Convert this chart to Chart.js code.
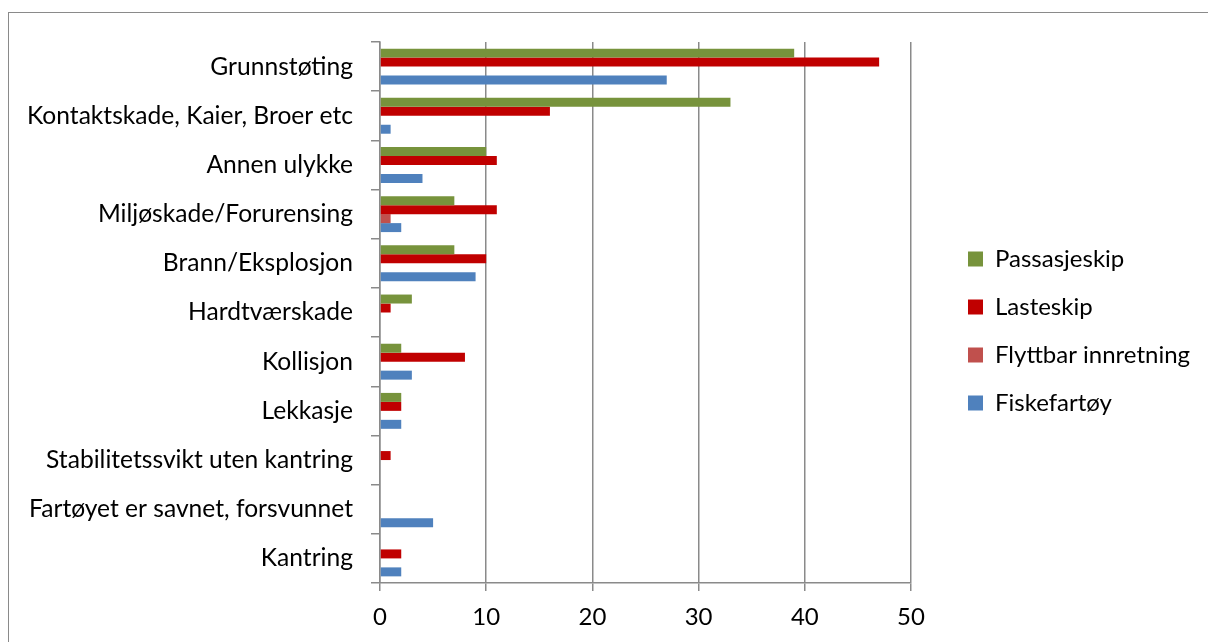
<!DOCTYPE html>
<html>
<head>
<meta charset="utf-8">
<title>Ulykker etter skipstype</title>
<script src="https://cdn.jsdelivr.net/npm/chart.js@4.4.1/dist/chart.umd.min.js"></script>
<style>
  html, body { margin: 0; padding: 0; background: #fff; overflow: hidden; }
  #ramme {
    position: absolute; left: 8px; top: 12px;
    width: 1300px; height: 700px;
    border: 1.5px solid #8a8a8a;
  }
  #myChart { position: absolute; left: 0; top: 0; }
</style>
</head>
<body>
<div id="ramme"></div>
<canvas id="myChart" width="1208" height="642"></canvas>
<script>
// kategorier, øverst først
var kategorier = ['Grunnstøting', 'Kontaktskade, Kaier, Broer etc', 'Annen ulykke',
  'Miljøskade/Forurensing', 'Brann/Eksplosjon', 'Hardtværskade', 'Kollisjon',
  'Lekkasje', 'Stabilitetssvikt uten kantring', 'Fartøyet er savnet, forsvunnet', 'Kantring'];

var passasjeskip = [39, 33, 10, 7, 7, 3, 2, 2, 0, 0, 0];
var lasteskip    = [47, 16, 11, 11, 10, 1, 8, 2, 1, 0, 2];
var flyttbar     = [0, 0, 0, 1, 0, 0, 0, 0, 0, 0, 0];
var fiskefartoy  = [27, 1, 4, 2, 9, 0, 3, 2, 0, 5, 2];

var serier = ['Passasjeskip', 'Lasteskip', 'Flyttbar innretning', 'Fiskefartøy'];
var xTicks = [0, 10, 20, 30, 40, 50];

// fast bredde og toppkant på forklaringen, så plottet ikke flytter seg med teksten
const fastForklaring = {
    id: 'fastForklaring',
    afterInit(chart, args, opts) {
        const leg = chart.legend;
        if (!leg) return;
        const fit = leg.fit.bind(leg);
        leg.fit = function () { fit(); this.width = opts.width; };
    },
    afterLayout(chart, args, opts) {
        if (chart.legend) chart.legend.top = opts.top;
    }
};

function inicio(){
    var ctx = document.getElementById('myChart').getContext('2d');
    var grid = '#8a8a8a';
    var font = {family: 'Lato', size: 24};

    const myChart = new Chart(ctx, {
        type: 'bar',
        plugins: [fastForklaring],
        data: {
            labels: kategorier,
            datasets: [
                {label: serier[0], data: passasjeskip, backgroundColor: '#77933C'},
                {label: serier[1], data: lasteskip, backgroundColor: '#C00000'},
                {label: serier[2], data: flyttbar, backgroundColor: '#C0504D'},
                {label: serier[3], data: fiskefartoy, backgroundColor: '#4F81BD'}
            ]
        },
        options: {
            indexAxis: 'y',
            responsive: false,
            animation: false,
            datasets: {
                bar: {categoryPercentage: 0.73, barPercentage: 1.0, borderWidth: 0}
            },
            layout: {padding: {top: 42, left: 0, right: 0, bottom: 0}},
            scales: {
                x: {
                    min: 0, max: 50,
                    afterBuildTicks: s => { s.ticks = xTicks.map(v => ({value: v})) },
                    grid: {color: grid, lineWidth: 1.5, tickLength: 8, tickColor: grid},
                    border: {color: grid, width: 1.5},
                    ticks: {color: '#000', font: font, padding: 12},
                    afterFit: s => { s.height = 59 }
                },
                y: {
                    grid: {drawOnChartArea: false, tickLength: 9, color: grid, lineWidth: 1.5, offset: true},
                    border: {color: grid, width: 1.5},
                    ticks: {color: '#000', font: {family: 'Lato', size: 24.6}, padding: 18},
                    afterFit: s => { s.width = 380 }
                },
                // tom akse som gir luft mellom plottet og forklaringen
                luft: {
                    axis: 'y', position: 'right',
                    grid: {display: false},
                    border: {display: false},
                    ticks: {display: false},
                    afterFit: s => { s.width = 944 - 911 }
                }
            },
            plugins: {
                fastForklaring: {width: 1208 - 944, top: 20},
                legend: {
                    position: 'right',
                    labels: {
                        boxWidth: 15, boxHeight: 15, padding: 24,
                        color: '#000', font: font
                    }
                },
                tooltip: {enabled: false}
            }
        }
    })
}
window.onload = inicio
</script>
</body>
</html>
